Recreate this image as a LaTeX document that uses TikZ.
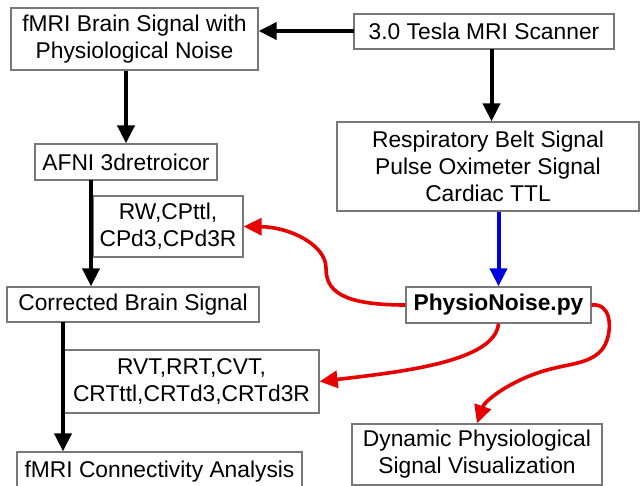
\documentclass[tikz,border=0pt]{standalone}
\usepackage{fontspec}
\setmainfont{Liberation Sans}
\usetikzlibrary{arrows.meta}
\definecolor{boxgray}{RGB}{120,120,120}
\definecolor{arrred}{RGB}{232,0,0}
\definecolor{arrblue}{RGB}{0,0,225}
\begin{document}
\begin{tikzpicture}[x=1pt,y=-1pt,
  box/.style={draw=boxgray, line width=1.3pt, fill=white, inner sep=0pt, align=center,
    font=\fontsize{22.8}{27}\selectfont},
  blk/.style={draw=black, line width=4pt, -{Triangle[length=18pt,width=17pt]}},
  redarr/.style={draw=arrred, line width=3.6pt, -{Triangle[length=18pt,width=17pt]}},
  bluearr/.style={draw=arrblue, line width=4pt, -{Triangle[length=18pt,width=17pt]}}]
\useasboundingbox (0,0) rectangle (640,486);
\clip (0,0) rectangle (640,486);
\fill[white] (0,0) rectangle (640,486);

\node[box, minimum width=247pt, minimum height=62pt] (fmri) at (134.5,39) {fMRI Brain Signal with\\Physiological Noise};
\node[box, minimum width=260pt, minimum height=35pt] (scanner) at (484,31.5) {3.0 Tesla MRI Scanner};
\node[box, minimum width=302pt, minimum height=89pt] (resp) at (488,166.5) {Respiratory Belt Signal\\Pulse Oximeter Signal\\Cardiac TTL};
\node[box, minimum width=182pt, minimum height=36pt] (afni) at (126,162) {AFNI 3dretroicor};
\node[box, minimum width=150pt, minimum height=61pt] (rw) at (168,226.5) {RW,CPttl,\\CPd3,CPd3R};
\node[box, minimum width=252pt, minimum height=35pt] (corr) at (133,304.5) {Corrected Brain Signal};
\node[box, minimum width=255pt, minimum height=63pt] (rvt) at (191.5,381.5) {RVT,RRT,CVT,\\CRTttl,CRTd3,CRTd3R};
\node[box, minimum width=285pt, minimum height=40pt] (conn) at (159.5,472) {fMRI Connectivity Analysis};
\node[box, minimum width=185pt, minimum height=36pt, font=\fontsize{22.8}{27}\selectfont\bfseries] (physio) at (498.5,305) {PhysioNoise.py};
\node[box, minimum width=250pt, minimum height=61pt] (dyn) at (477,454.5) {Dynamic Physiological\\Signal Visualization};

\coordinate (scanL) at (354,31);
\coordinate (scanB) at (491.5,49);
\coordinate (afniB) at (91,180);
\coordinate (corrB) at (63,322);

\draw[blk] (scanL) -- (scanL -| fmri.east);
\draw[blk] (scanB) -- (scanB |- resp.north);
\draw[blk] (afni.north |- fmri.south) -- (afni.north);
\draw[blk] (afniB) -- (afniB |- corr.north);
\draw[blk] (corrB) -- (corrB |- conn.north);
\draw[bluearr] (physio.north |- resp.south) -- (physio.north);

\draw[redarr] (physio.west) .. controls (340,305) and (326,290) .. (326,268)
  .. controls (326,245) and (290,227) .. (rw.east);
\draw[redarr] (physio.south) .. controls (495,362) and (400,372) .. (rvt.east);
\draw[redarr] (physio.east) .. controls (610,303) and (612,325) .. (607,340)
  .. controls (600,362) and (575,363) .. (555,368)
  .. controls (515,377) and (485,400) .. (dyn.north);
\end{tikzpicture}
\end{document}
